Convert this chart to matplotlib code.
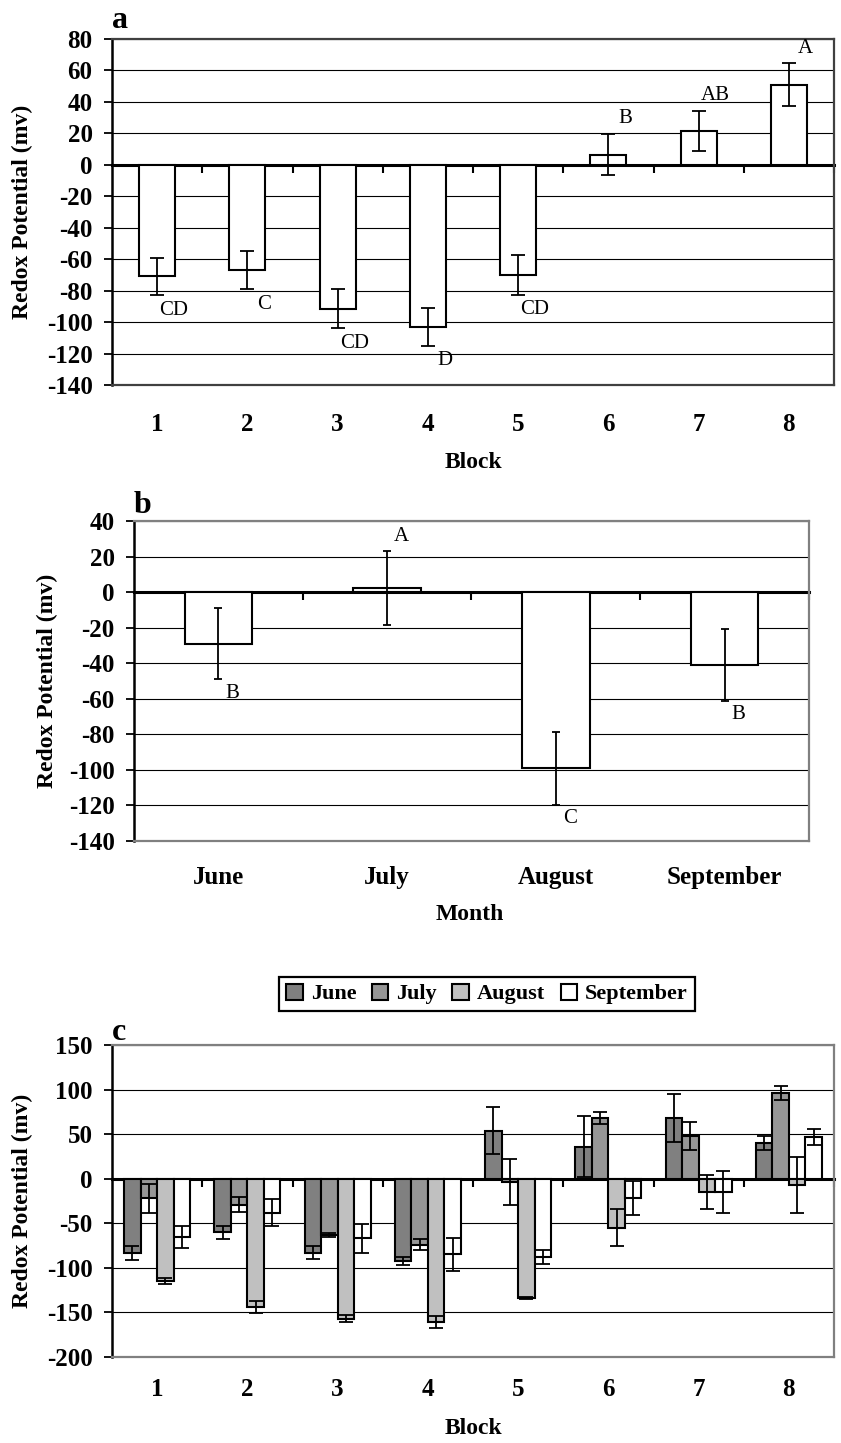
import numpy as np
import matplotlib.pyplot as plt

plt.rcParams['font.family'] = ['Liberation Serif', 'DejaVu Serif']
plt.rcParams['axes.unicode_minus'] = False

# a: redox potential per block (mean, SE, Tukey groups)
blocks = ['1', '2', '3', '4', '5', '6', '7', '8']
block_mean = [-71, -67, -91.5, -103, -70, 6.5, 21.5, 51]
block_se = [12, 12, 12.5, 12, 12.5, 13, 12.7, 13.5]
block_letters = ['CD', 'C', 'CD', 'D', 'CD', 'B', 'AB', 'A']

# b: redox potential per month
months = ['June', 'July', 'August', 'September']
month_mean = [-29, 2.4, -99, -41]
month_se = [20, 21, 20.5, 20]
month_letters = ['B', 'A', 'C', 'B']

# c: block x month
june = [-83, -60, -83, -92, 54, 36, 68, 40]
june_se = [8, 7.5, 7, 4.5, 26, 34, 27, 8]
july = [-22, -29, -63, -74, -4, 68, 48, 96]
july_se = [16, 8, 2, 6.5, 26, 6.5, 16, 8]
august = [-115, -144, -157, -161, -134, -55, -15, -7]
august_se = [3.5, 7, 4, 6.5, 1, 21, 19, 31]
september = [-65, -38, -67, -85, -88, -22, -15, 47]
september_se = [12.5, 15, 16, 18, 8, 19, 24, 9]

W, H = 841, 1443
fig = plt.figure(figsize=(W / 100, H / 100), dpi=100)


def px_axes(left, top, right, bottom):
    return fig.add_axes([left / W, 1 - bottom / H, (right - left) / W, (bottom - top) / H])


def style_axes(ax, labels, ymin, ymax, step, frame_color, xpad):
    n = len(labels)
    x = np.arange(1, n + 1)
    ax.set_xlim(0.5, n + 0.5)
    ax.set_ylim(ymin, ymax)
    ax.set_yticks(np.arange(ymin, ymax + 1, step))
    ax.set_xticks(x)
    ax.set_xticklabels(labels)
    ax.yaxis.grid(True, color='black', linewidth=0.8)
    ax.set_axisbelow(True)
    for side in ['top', 'right', 'bottom']:
        ax.spines[side].set_color(frame_color)
        ax.spines[side].set_linewidth(1.6)
    ax.spines['left'].set_linewidth(1.8)
    ax.tick_params(axis='y', direction='out', length=6, width=1.3, pad=8, labelsize=18)
    ax.tick_params(axis='x', length=0, pad=xpad, labelsize=18)
    for lab in ax.get_xticklabels() + ax.get_yticklabels():
        lab.set_fontweight('bold')

    # category axis drawn along the zero line, ticks between categories
    sec = ax.secondary_xaxis((0 - ymin) / (ymax - ymin))
    sec.set_alignment('bottom')
    sec.set_xticks(np.arange(1.5, n + 1, 1))
    sec.tick_params(axis='x', direction='out', length=6, width=1.5,
                    labelbottom=False, labeltop=False)
    sec.spines['bottom'].set_linewidth(2.2)
    sec.spines['bottom'].set_color('black')
    sec.spines['top'].set_visible(False)
    return x


def add_letters(ax, x, means, ses, letters, dx, dy):
    for xi, m, s, t in zip(x, means, ses, letters):
        if m < 0:
            y, off = m - s, -dy
        else:
            y, off = m + s, dy
        ax.annotate(t, (xi, y), xytext=(dx, off), textcoords='offset points',
                    ha='center', va='center', fontsize=15)


def panel_tag(ax, tag, rise):
    ax.annotate(tag, (0, 1), xycoords='axes fraction', xytext=(0, rise),
                textcoords='offset points', ha='left', va='baseline',
                fontsize=23, fontweight='bold')


err_style = dict(elinewidth=1.3, capthick=1.3, ecolor='black')

# ---- panel a ----
ax_a = px_axes(112, 39, 834, 385)
xa = style_axes(ax_a, blocks, -140, 80, 20, '#404040', 20)
ax_a.bar(xa, block_mean, width=0.4, color='white', edgecolor='black', linewidth=1.5,
         yerr=block_se, capsize=5, error_kw=err_style, zorder=2)
add_letters(ax_a, xa, block_mean, block_se, block_letters, 12, 11)
panel_tag(ax_a, 'a', 8)
fig.text(22 / W, 1 - 212 / H, 'Redox Potential (mv)', rotation=90, ha='center',
         va='center', fontsize=17, fontweight='bold')
fig.text(473 / W, 1 - 463 / H, 'Block', ha='center', va='center',
         fontsize=17, fontweight='bold')

# ---- panel b ----
ax_b = px_axes(134, 521, 809, 841)
xb = style_axes(ax_b, months, -140, 40, 20, '#808080', 18)
ax_b.bar(xb, month_mean, width=0.4, color='white', edgecolor='black', linewidth=1.5,
         yerr=month_se, capsize=3, error_kw=err_style, zorder=2)
add_letters(ax_b, xb, month_mean, month_se, month_letters, 10, 10)
panel_tag(ax_b, 'b', 6)
fig.text(47 / W, 1 - 681 / H, 'Redox Potential (mv)', rotation=90, ha='center',
         va='center', fontsize=17, fontweight='bold')
fig.text(470 / W, 1 - 915 / H, 'Month', ha='center', va='center',
         fontsize=17, fontweight='bold')

# ---- panel c ----
ax_c = px_axes(112, 1045, 834, 1357)
xc = style_axes(ax_c, blocks, -200, 150, 50, '#808080', 15)
series = [('June', june, june_se, '#808080'),
          ('July', july, july_se, '#969696'),
          ('August', august, august_se, '#c0c0c0'),
          ('September', september, september_se, 'white')]
bw = 0.183
for k, (name, vals, se, col) in enumerate(series):
    ax_c.bar(xc + (k - 1.5) * bw, vals, width=bw, color=col, edgecolor='black',
             linewidth=1.5, yerr=se, capsize=5, error_kw=err_style, zorder=2,
             label=name)
panel_tag(ax_c, 'c', 3.5)
fig.text(22 / W, 1 - 1201 / H, 'Redox Potential (mv)', rotation=90, ha='center',
         va='center', fontsize=17, fontweight='bold')
fig.text(473 / W, 1 - 1428 / H, 'Block', ha='center', va='center',
         fontsize=17, fontweight='bold')

handles, labels = ax_c.get_legend_handles_labels()
leg = fig.legend(handles, labels, loc='center', bbox_to_anchor=(487 / W, 1 - 994 / H),
                 ncol=4, frameon=True, fancybox=False, edgecolor='black', framealpha=1,
                 handlelength=0.75, handleheight=0.75, handletextpad=0.35,
                 columnspacing=0.7, borderpad=0.3, borderaxespad=0,
                 prop=dict(weight='bold', size=16))
leg.get_frame().set_linewidth(1.6)

fig.savefig('out.png', dpi=100)
